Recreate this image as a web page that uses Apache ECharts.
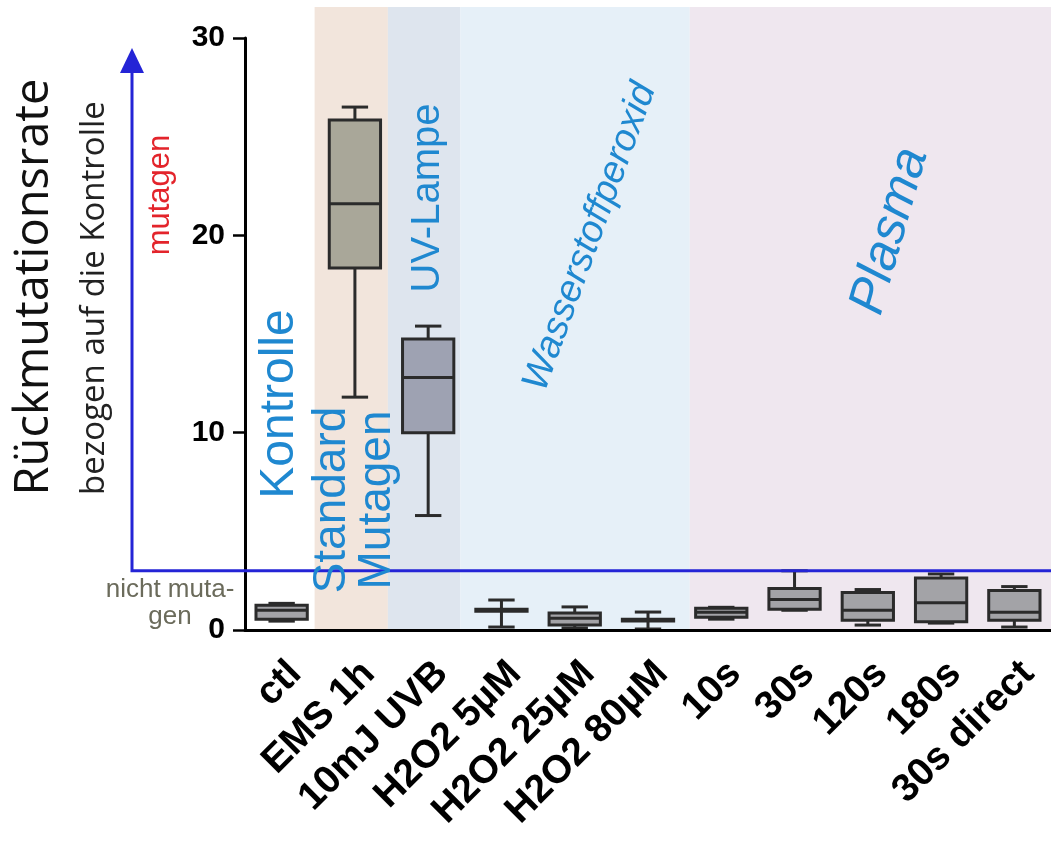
<!DOCTYPE html>
<html><head><meta charset="utf-8">
<script src="https://cdn.jsdelivr.net/npm/echarts@6/dist/echarts.min.js"></script>
<style>html,body{margin:0;padding:0;background:#fff}#c{width:1051px;height:844px}</style>
</head><body><div id="c"></div>
<script>
// ---- data ----
const categories = ['ctl','EMS 1h','10mJ UVB','H2O2 5µM','H2O2 25µM','H2O2 80µM','10s','30s','120s','180s','30s direct'];
const whiskerLow  = [0.45, 11.8,  5.8, 0.15, 0.10, 0.05, 0.55, 1.00, 0.25, 0.35, 0.15];
const quartile1   = [0.55, 18.35, 10.0, 0.95, 0.25, 0.45, 0.65, 1.05, 0.50, 0.42, 0.50];
const medians     = [1.00, 21.6, 12.8, 1.00, 0.60, 0.50, 0.90, 1.55, 1.00, 1.38, 0.90];
const quartile3   = [1.25, 25.85, 14.75, 1.05, 0.86, 0.55, 1.10, 2.10, 1.90, 2.63, 2.00];
const whiskerHigh = [1.35, 26.5, 15.4, 1.52, 1.17, 0.91, 1.15, 3.00, 2.05, 2.84, 2.20];
const yTicks = [0, 10, 20, 30];
const threshold = 3;
const groupNames = ['Kontrolle', 'Standard Mutagen', 'UV-Lampe', 'Wasserstoffperoxid', 'Plasma'];
const groupEdges = [-0.5, 0.45, 1.45, 2.44, 5.57, 10.5];   // band edges in category units

// ---- styles ----
const bandColors = ['#ffffff', '#f2e5dc', '#dee5ee', '#e6f0f8', '#efe7ef'];
const boxColors = ['#a3a3a7', '#a9a799', '#9ea2b2', '#a3a3a7', '#a3a3a7', '#a3a3a7', '#a3a3a7', '#a3a3a7', '#a3a3a7', '#a3a3a7', '#a3a3a7'];
const annBlue = '#1f88d0';
const lineBlue = '#2424d6';

const chart = echarts.init(document.getElementById('c'), null, {renderer: 'canvas'});

const boxData = categories.map((c, i) => [i, whiskerLow[i], quartile1[i], medians[i], quartile3[i], whiskerHigh[i]]);
const bandData = groupNames.map((g, i) => [groupEdges[i], groupEdges[i + 1], i]);

const option = {
  animation: false,
  backgroundColor: '#ffffff',
  grid: [
    {left: 245, right: -12, top: 38, bottom: 214},
    {left: 245, right: -12, top: 7, bottom: 214}
  ],
  xAxis: [
    {type: 'category', data: categories, gridIndex: 0, z: 5,
     axisLine: {lineStyle: {color: '#000', width: 3}},
     axisTick: {alignWithLabel: true, length: 15, lineStyle: {color: '#000', width: 2.5}},
     axisLabel: {rotate: 45, interval: 0, margin: 24, verticalAlign: 'top', color: '#000', fontSize: 39, fontWeight: 'bold', fontFamily: '"Liberation Sans", Arial, sans-serif'}},
    {type: 'value', gridIndex: 1, min: -0.5, max: 10.5, show: false}
  ],
  yAxis: [
    {type: 'value', gridIndex: 0, min: 0, max: 30, interval: 10, z: 5,
     splitLine: {show: false},
     axisLine: {show: true, lineStyle: {color: '#000', width: 3}},
     axisTick: {show: true, length: 12, lineStyle: {color: '#000', width: 2.5}},
     axisLabel: {margin: 20, color: '#000', fontSize: 30, fontWeight: 'bold', fontFamily: '"Liberation Sans", Arial, sans-serif',
       customValues: yTicks}},
    {type: 'value', gridIndex: 1, min: 0, max: 1, show: false}
  ],
  series: [
    {type: 'custom', xAxisIndex: 1, yAxisIndex: 1, z: 0, silent: true, data: bandData,
     renderItem: function (params, api) {
       const p0 = api.coord([api.value(0), 1]);
       const p1 = api.coord([api.value(1), 0]);
       return {type: 'rect', shape: {x: p0[0], y: p0[1], width: p1[0] - p0[0], height: p1[1] - p0[1]},
               style: {fill: bandColors[api.value(2)]}};
     }},
    {type: 'custom', xAxisIndex: 0, yAxisIndex: 0, z: 3, silent: true, data: boxData,
     encode: {x: 0, y: [1, 2, 3, 4, 5]},
     renderItem: function (params, api) {
       const i = api.value(0);
       const bw = api.size([1, 0])[0];
       const half = bw * 0.35, cap = bw * 0.18;
       const pMin = api.coord([i, api.value(1)]);
       const pQ1 = api.coord([i, api.value(2)]);
       const pMed = api.coord([i, api.value(3)]);
       const pQ3 = api.coord([i, api.value(4)]);
       const pMax = api.coord([i, api.value(5)]);
       const x = pMed[0];
       const st = {stroke: '#2b2b2b', lineWidth: 3};
       return {type: 'group', children: [
         {type: 'line', shape: {x1: x, y1: pQ3[1], x2: x, y2: pMax[1]}, style: st},
         {type: 'line', shape: {x1: x - cap, y1: pMax[1], x2: x + cap, y2: pMax[1]}, style: st},
         {type: 'line', shape: {x1: x, y1: pQ1[1], x2: x, y2: pMin[1]}, style: st},
         {type: 'line', shape: {x1: x - cap, y1: pMin[1], x2: x + cap, y2: pMin[1]}, style: st},
         {type: 'rect', shape: {x: x - half, y: pQ3[1], width: 2 * half, height: pQ1[1] - pQ3[1]},
          style: {fill: boxColors[i], stroke: '#2b2b2b', lineWidth: 3}},
         {type: 'line', shape: {x1: x - half, y1: pMed[1], x2: x + half, y2: pMed[1]}, style: st}
       ]};
     }}
  ]
};
chart.setOption(option);

// annotations
const yThr = chart.convertToPixel({yAxisIndex: 0}, threshold);
const arrowX = 132;
function txt(text, x, y, rotDeg, font, fill, extra) {
  return Object.assign({type: 'text', x: x, y: y, rotation: rotDeg * Math.PI / 180, z: 10, silent: true,
    style: Object.assign({text: text, font: font, fill: fill, align: 'center', verticalAlign: 'middle',
      textAlign: 'center', textVerticalAlign: 'middle'}, extra || {})});
}
chart.setOption({
  graphic: [
    {type: 'polyline', z: 8, silent: true, shape: {points: [[arrowX, 70], [arrowX, yThr], [1051, yThr]]},
     style: {stroke: lineBlue, lineWidth: 3, fill: null}},
    {type: 'polygon', z: 8, silent: true, shape: {points: [[arrowX - 12, 73], [arrowX + 12, 73], [arrowX, 48]]},
     style: {fill: lineBlue}},
    txt('Rückmutationsrate', 35, 287, 90, '47px "Open Sans", "Noto Sans", sans-serif', '#111'),
    txt('bezogen auf die Kontrolle', 95, 298, 90, '33px "Open Sans", "Noto Sans", sans-serif', '#222'),
    txt('mutagen', 160, 195, 90, '31px "Liberation Sans", Arial, sans-serif', '#e3242b'),
    txt('nicht muta-\ngen', 170, 603, 0, '26px "Liberation Sans", Arial, sans-serif', '#6b6b5b', {lineHeight: 27}),
    txt('Kontrolle', 280, 404, 90, '48px "Liberation Sans", Arial, sans-serif', annBlue),
    txt('Standard\nMutagen', 355, 500, 90, '46px "Liberation Sans", Arial, sans-serif', annBlue, {lineHeight: 45}),
    txt('UV-Lampe', 428, 198, 90, '40px "Liberation Sans", Arial, sans-serif', annBlue),
    txt('Wasserstoffperoxid', 590, 237, 70, 'italic 38px "Liberation Sans Narrow", "Liberation Sans", Arial, sans-serif', annBlue),
    txt('Plasma', 890, 231, 74, 'italic 51px "Liberation Sans", Arial, sans-serif', annBlue)
  ]
});
</script>
</body></html>
